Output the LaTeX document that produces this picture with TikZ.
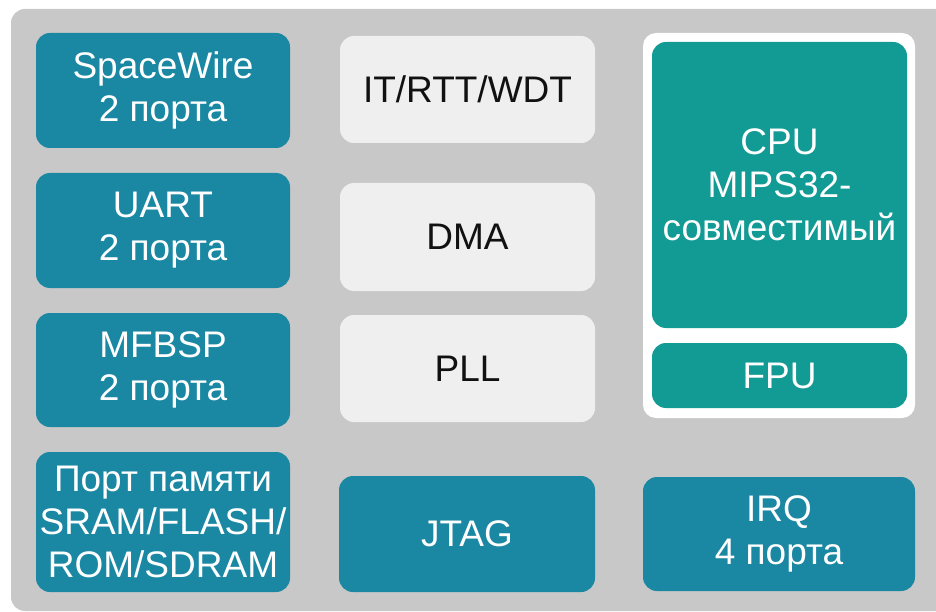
\documentclass[tikz,border=0pt]{standalone}
\usepackage{fontspec}
\setmainfont{Liberation Sans}
\definecolor{panelgrey}{HTML}{C8C8C8}
\definecolor{portblue}{HTML}{1A87A3}
\definecolor{coreteal}{HTML}{129A95}
\definecolor{lightbox}{HTML}{EFEFEF}
\definecolor{darktext}{HTML}{111111}
\tikzset{
  blk/.style={rectangle, rounded corners=14pt, inner sep=0pt, align=center,
    font=\fontsize{37}{43}\selectfont},
  portbox/.style={blk, fill=portblue, text=white},
  corebox/.style={blk, fill=coreteal, text=white},
  periphbox/.style={blk, fill=lightbox, text=darktext},
  holder/.style={rectangle, rounded corners=13pt, fill=white, inner sep=0pt}
}
\begin{document}
\begin{tikzpicture}[x=1pt, y=-1pt]
  \useasboundingbox (0,0) rectangle (936,612);
  % page and grey panel
  \fill[white] (0,0) rectangle (936,612);
  \begin{scope}
    \clip (0,0) rectangle (936,612);
    \fill[panelgrey, rounded corners=14pt] (11,9) rectangle (970,611);
  \end{scope}

  % left column: interface ports
  \node[portbox, minimum width=254pt, minimum height=115pt] (spw) at (163,90.5) {SpaceWire\\2 порта};
  \node[portbox, minimum width=254pt, minimum height=115pt] (uart) at (163,230.5) {UART\\2 порта};
  \node[portbox, minimum width=254pt, minimum height=114pt] (mfbsp) at (163,370) {MFBSP\\2 порта};
  \node[portbox, minimum width=254pt, minimum height=140pt] (mem) at (163,522) {Порт памяти\\SRAM/FLASH/\\ROM/SDRAM};

  % middle column: system blocks
  \node[periphbox, minimum width=255pt, minimum height=107pt] (timers) at (467.5,89.5) {IT/RTT/WDT};
  \node[periphbox, minimum width=255pt, minimum height=108pt] (dma) at (467.5,237) {DMA};
  \node[periphbox, minimum width=255pt, minimum height=107pt] (pll) at (467.5,368.5) {PLL};
  \node[portbox, minimum width=256pt, minimum height=116pt] (jtag) at (467,534) {JTAG};

  % right column: processor core
  \node[holder, minimum width=272pt, minimum height=385pt] (core) at (779,225.5) {};
  \node[corebox, minimum width=255pt, minimum height=286pt] (cpu) at (779.5,185) {CPU\\MIPS32-\\совместимый};
  \node[corebox, minimum width=255pt, minimum height=65pt] (fpu) at (779.5,375.5) {FPU};
  \node[portbox, minimum width=272pt, minimum height=114pt] (irq) at (779,534) {IRQ\\4 порта};
\end{tikzpicture}
\end{document}
